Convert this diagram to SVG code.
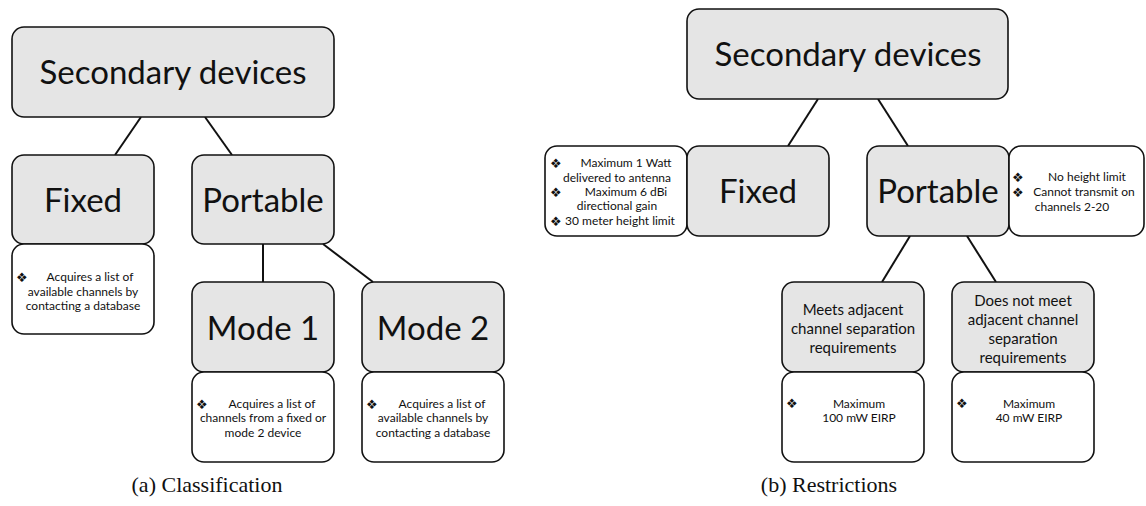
<svg xmlns="http://www.w3.org/2000/svg" width="1146" height="506" viewBox="0 0 1146 506">
<style>
.g{fill:#e5e5e5;stroke:#111;stroke-width:1.6}
.w{fill:#fff;stroke:#111;stroke-width:1.6}
.big{font-family:Lato,"Open Sans",sans-serif;font-size:33px;fill:#111;text-anchor:middle}
.mid{font-family:Lato,"Open Sans",sans-serif;font-size:15px;fill:#111;text-anchor:middle}
.sm{font-family:Lato,"Open Sans",sans-serif;font-size:12px;fill:#111;text-anchor:middle}
.b{font-family:"DejaVu Sans",sans-serif;font-size:13px;fill:#111}
.cap{font-family:"Liberation Serif",serif;font-size:22px;fill:#111;text-anchor:middle}
.c{stroke:#111;stroke-width:2;fill:none}
</style>
<g id="connectors">
<line class="c" x1="141" y1="117" x2="115" y2="155"/>
<line class="c" x1="205" y1="117" x2="232" y2="155"/>
<line class="c" x1="263" y1="244" x2="263" y2="282"/>
<line class="c" x1="323" y1="244" x2="373" y2="282"/>
<line class="c" x1="818" y1="99" x2="788" y2="146"/>
<line class="c" x1="878" y1="99" x2="908" y2="146"/>
<line class="c" x1="910" y1="236" x2="882" y2="282"/>
<line class="c" x1="967" y1="236" x2="996" y2="282"/>
</g>
<g id="a-secondary">
<rect class="g" x="12" y="27" width="322" height="90" rx="12"/>
<text class="big" x="173" y="84">Secondary devices</text>
</g>
<g id="a-fixed">
<rect class="g" x="12" y="155" width="142" height="89" rx="12"/>
<text class="big" x="83" y="212">Fixed</text>
</g>
<g id="a-fixed-desc">
<rect class="w" x="12" y="244" width="142" height="90" rx="12"/>
<text class="b" x="16" y="282">❖</text>
<text class="sm" x="90" y="281">Acquires a list of</text>
<text class="sm" x="83" y="296">available channels by</text>
<text class="sm" x="83" y="310">contacting a database</text>
</g>
<g id="a-portable">
<rect class="g" x="192" y="155" width="142" height="89" rx="12"/>
<text class="big" x="263" y="212">Portable</text>
</g>
<g id="a-mode1">
<rect class="g" x="192" y="282" width="142" height="90" rx="12"/>
<text class="big" x="263" y="340">Mode 1</text>
</g>
<g id="a-mode1-desc">
<rect class="w" x="192" y="372" width="142" height="90" rx="12"/>
<text class="b" x="196" y="409">❖</text>
<text class="sm" x="272" y="408">Acquires a list of</text>
<text class="sm" x="263" y="422">channels from a fixed or</text>
<text class="sm" x="263" y="437">mode 2 device</text>
</g>
<g id="a-mode2">
<rect class="g" x="362" y="282" width="142" height="90" rx="12"/>
<text class="big" x="433" y="340">Mode 2</text>
</g>
<g id="a-mode2-desc">
<rect class="w" x="362" y="372" width="142" height="90" rx="12"/>
<text class="b" x="366" y="409">❖</text>
<text class="sm" x="442" y="408">Acquires a list of</text>
<text class="sm" x="433" y="422">available channels by</text>
<text class="sm" x="433" y="437">contacting a database</text>
</g>
<g id="b-secondary">
<rect class="g" x="687" y="9" width="321" height="90" rx="12"/>
<text class="big" x="848" y="66">Secondary devices</text>
</g>
<g id="b-fixed-desc">
<rect class="w" x="545" y="146" width="142" height="90" rx="12"/>
<text class="b" x="550" y="168">❖</text>
<text class="sm" x="626" y="167">Maximum 1 Watt</text>
<text class="sm" x="617" y="182">delivered to antenna</text>
<text class="b" x="550" y="197">❖</text>
<text class="sm" x="626" y="196">Maximum 6 dBi</text>
<text class="sm" x="617" y="210">directional gain</text>
<text class="b" x="550" y="226">❖</text>
<text class="sm" x="620" y="225">30 meter height limit</text>
</g>
<g id="b-fixed">
<rect class="g" x="687" y="146" width="142" height="90" rx="12"/>
<text class="big" x="758" y="203">Fixed</text>
</g>
<g id="b-portable">
<rect class="g" x="867" y="146" width="142" height="90" rx="12"/>
<text class="big" x="938" y="203">Portable</text>
</g>
<g id="b-portable-desc">
<rect class="w" x="1009" y="146" width="135" height="90" rx="12"/>
<text class="b" x="1012" y="182">❖</text>
<text class="sm" x="1087" y="181">No height limit</text>
<text class="b" x="1012" y="197">❖</text>
<text class="sm" x="1084" y="196">Cannot transmit on</text>
<text class="sm" x="1072" y="211">channels 2-20</text>
</g>
<g id="b-meets">
<rect class="g" x="782" y="282" width="142" height="90" rx="12"/>
<text class="mid" x="853" y="315">Meets adjacent</text>
<text class="mid" x="853" y="334">channel separation</text>
<text class="mid" x="853" y="353">requirements</text>
</g>
<g id="b-meets-desc">
<rect class="w" x="782" y="372" width="142" height="90" rx="12"/>
<text class="b" x="786" y="408">❖</text>
<text class="sm" x="859" y="408">Maximum</text>
<text class="sm" x="859" y="422">100 mW EIRP</text>
</g>
<g id="b-notmeets">
<rect class="g" x="952" y="282" width="142" height="90" rx="12"/>
<text class="mid" x="1023" y="306">Does not meet</text>
<text class="mid" x="1023" y="325">adjacent channel</text>
<text class="mid" x="1023" y="344">separation</text>
<text class="mid" x="1023" y="363">requirements</text>
</g>
<g id="b-notmeets-desc">
<rect class="w" x="952" y="372" width="142" height="90" rx="12"/>
<text class="b" x="956" y="408">❖</text>
<text class="sm" x="1029" y="408">Maximum</text>
<text class="sm" x="1029" y="422">40 mW EIRP</text>
</g>
<g id="captions">
<text class="cap" x="207" y="492">(a) Classification</text>
<text class="cap" x="829" y="492">(b) Restrictions</text>
</g>
</svg>
